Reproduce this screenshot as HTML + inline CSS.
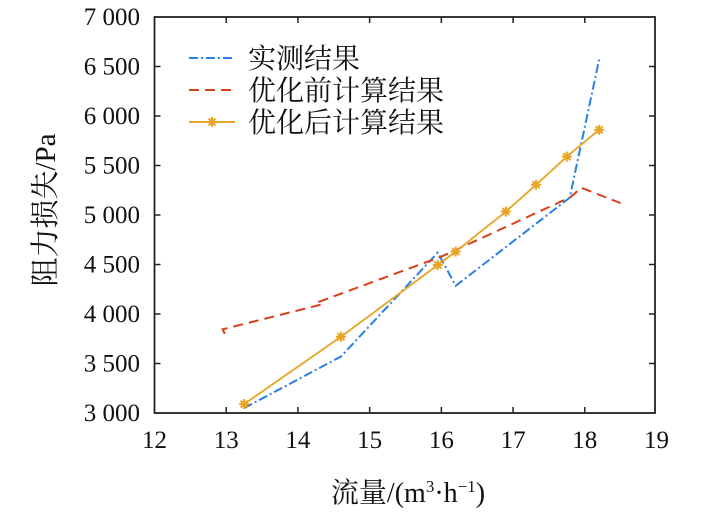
<!DOCTYPE html>
<html><head><meta charset="utf-8"><style>
body{margin:0;background:#fff}
svg text{font-family:"Liberation Serif","Noto Serif CJK SC","Noto Sans CJK SC",serif;fill:#111}
</style></head><body>
<svg id="chart" width="709" height="511" xmlns="http://www.w3.org/2000/svg">
<g id="axes"></g>
<g id="series"></g>
<g id="legend"></g>
<text transform="translate(55,210) rotate(-90)" text-anchor="middle" font-size="29">阻力损失/Pa</text>
<text x="408" y="502" text-anchor="middle" font-size="28">流量/(m<tspan font-size="17" dy="-10">3</tspan><tspan dy="10">·h</tspan><tspan font-size="17" dy="-10">−1</tspan><tspan dy="10">)</tspan></text>
</svg>
<script>
const xTicks=[12,13,14,15,16,17,18,19];
const yTicks=[3000,3500,4000,4500,5000,5500,6000,6500,7000];
const yTickLabels=["3 000","3 500","4 000","4 500","5 000","5 500","6 000","6 500","7 000"];
const measuredX=[13.25,14.6,15.95,16.2,17.79,18.2];
const measuredY=[3050,3570,4620,4285,5175,6570];
const beforeX=[12.98,12.95,14.35,14.3,16.0,17.8,17.95,18.5];
const beforeY=[3800,3845,4100,4125,4580,5180,5275,5120];
const afterX=[13.25,14.6,15.95,16.2,16.9,17.32,17.75,18.2];
const afterY=[3090,3770,4495,4630,5035,5305,5590,5860];

const L=154.5,R=656.5,T=17,B=413;
const sx=v=>L+(v-12)/(19-12)*(R-L);
const sy=v=>B-(v-3000)/(7000-3000)*(B-T);
const NS="http://www.w3.org/2000/svg";
function mk(tag,attrs,parent){const e=document.createElementNS(NS,tag);for(const k in attrs)e.setAttribute(k,attrs[k]);parent.appendChild(e);return e;}
const axes=document.getElementById('axes');
const frame=mk('rect',{x:L,y:T,width:655-L,height:B-T,fill:'none',stroke:'#222','stroke-width':1.8},axes);


xTicks.forEach(v=>{
  const x=sx(v);
  if(v>12&&v<19){
    const t1=mk('line',{x1:x,x2:x,y1:B,y2:B-6,stroke:'#222','stroke-width':1.5},axes);
    
    
    const t2=mk('line',{x1:x,x2:x,y1:T,y2:T+6,stroke:'#222','stroke-width':1.5},axes);
    
    
  }
  const tx=mk('text',{x:x,y:448,'text-anchor':'middle','font-size':25},axes);
  tx.textContent=v;
  
  
});
yTicks.forEach((v,i)=>{
  const y=sy(v);
  if(i>0&&i<yTicks.length-1){
    const t1=mk('line',{x1:L,x2:L+6,y1:y,y2:y,stroke:'#222','stroke-width':1.5},axes);
    
    
    const t2=mk('line',{x1:655,x2:649,y1:y,y2:y,stroke:'#222','stroke-width':1.5},axes);
    
    
  }
  const ty=mk('text',{x:140,y:y+8,'text-anchor':'end','font-size':25},axes);
  ty.textContent=yTickLabels[i];
  
  
});
const ser=document.getElementById('series');
function pts(xs,ys){return xs.map((x,i)=>sx(x)+','+sy(ys[i])).join(' ');}
const l1=mk('polyline',{points:pts(measuredX,measuredY),fill:'none',stroke:'#2a7fe8','stroke-width':2,'stroke-dasharray':'9,3,2,3'},ser);


const l2=mk('polyline',{points:pts(beforeX,beforeY),fill:'none',stroke:'#d8401a','stroke-width':2,'stroke-dasharray':'10,6'},ser);


const l3=mk('polyline',{points:pts(afterX,afterY),fill:'none',stroke:'#e8a424','stroke-width':1.8},ser);


function star(cx,cy,parent){
  const g=mk('g',{stroke:'#e8a424','stroke-width':2},parent);
  for(let a=0;a<4;a++){const r=5,an=a*Math.PI/4;mk('line',{x1:cx-r*Math.cos(an),y1:cy-r*Math.sin(an),x2:cx+r*Math.cos(an),y2:cy+r*Math.sin(an)},g);}
  mk('circle',{cx:cx,cy:cy,r:2.5,fill:'#e8a424',stroke:'none'},g);
  return g;
}
afterX.forEach((x,i)=>{
  const m=star(sx(x),sy(afterY[i]),ser);
  
  
});
const leg=document.getElementById('legend');
const names=["实测结果","优化前计算结果","优化后计算结果"];
const rows=[58,90,122];
names.forEach((n,i)=>{
  const y=rows[i];
  const attrs=[{stroke:'#2a7fe8','stroke-dasharray':'9,3,2,3'},{stroke:'#d8401a','stroke-dasharray':'10,6'},{stroke:'#e8a424'}][i];
  const ln=mk('line',Object.assign({x1:189,x2:235,y1:y,y2:y,'stroke-width':2},attrs),leg);
  
  
  if(i===2){const s=star(212,y,leg);}
  const t=mk('text',{x:248,y:y+10,'font-size':28},leg);
  t.textContent=n;
  
  
});
</script>
</body></html>
